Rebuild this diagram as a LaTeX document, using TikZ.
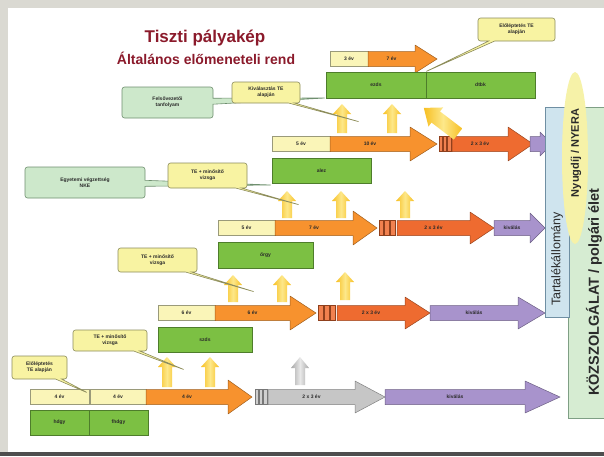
\documentclass[tikz,border=0pt]{standalone}
\usepackage{fontspec}
\setmainfont{Liberation Sans}
\usetikzlibrary{shapes.callouts,shapes.geometric}
\definecolor{bgray}{HTML}{DAD9D2}
\definecolor{dbar}{HTML}{4E4E4E}
\definecolor{titlered}{HTML}{8B1A2B}
\definecolor{txt}{HTML}{2A2A2A}
\definecolor{lyel}{HTML}{FAF5B8}
\definecolor{lyelb}{HTML}{9A9A7A}
\definecolor{orng}{HTML}{F7922E}
\definecolor{redo}{HTML}{EE6B30}
\definecolor{purp}{HTML}{A893CC}
\definecolor{gryA}{HTML}{C6C6C6}
\definecolor{grn}{HTML}{7CC043}
\definecolor{grnb}{HTML}{4E7D2B}
\definecolor{ycal}{HTML}{F8F3A2}
\definecolor{ycalb}{HTML}{8C8C5C}
\definecolor{gcal}{HTML}{CDE8CB}
\definecolor{gcalb}{HTML}{6F8F6F}
\definecolor{upd}{HTML}{F7BF22}
\definecolor{upl}{HTML}{FDE88A}
\definecolor{blu}{HTML}{CFE4EE}
\definecolor{blub}{HTML}{6F8FA3}
\definecolor{ell}{HTML}{F6F2A8}
\definecolor{gpan}{HTML}{D6ECD2}
\definecolor{gpanb}{HTML}{7F9F85}
% horizontal arrow: name, xs, xh, xt, yc, colour, label, head half height
\newcommand{\HArr}[8]{%
  \draw[fill=#6, draw=#6!65!black, line width=0.5pt, line join=round]
    (#2,#5-7.5) -- (#3,#5-7.5) -- (#3,#5-#8) -- (#4,#5) -- (#3,#5+#8) -- (#3,#5+7.5) -- (#2,#5+7.5) -- cycle;
  \node[lbl] (#1) at ({(#2+#3)/2},#5) {#7};}
% vertical up arrow: x, ybottom, ytop
\newcommand{\UpArr}[3]{%
  \shade[left color=upd, right color=upd, middle color=upl]
    (#1-5,#2) -- (#1-5,#3+10) -- (#1-9,#3+10) -- (#1,#3) -- (#1+9,#3+10) -- (#1+5,#3+10) -- (#1+5,#2) -- cycle;}
% break symbol: x1, x2, yc, colour
\newcommand{\Brk}[4]{%
  \foreach \i in {0,1,2}{\draw[fill=#4!85!white, draw=#4!60!black, line width=0.4pt]
    ({#1+\i*(#2-#1)/3},#3-7.5) rectangle ({#1+(\i+1)*(#2-#1)/3-1},#3+7.5);}}
% box by corners: name, x1, y1, x2, y2, style, text
\newcommand{\BoxN}[7]{\node[#6, anchor=north west, minimum width={(#4-#2)*1pt}, minimum height={(#5-#3)*1pt}] (#1) at (#2,#3) {#7};}
% callout: name, style, x1, y1, x2, y2, tipx, tipy, text
\newcommand{\CallN}[9]{%
  \coordinate (#1tip) at (#7,#8);
  \node[#2, minimum width={(#5-#3)*1pt}, minimum height={(#6-#4)*1pt}, callout absolute pointer={(#1tip)}] (#1) at ({(#3+#5)/2},{(#4+#6)/2}) {#9};}
\begin{document}
\begin{tikzpicture}[x=1pt,y=-1pt,
  lbl/.style={font=\fontsize{5}{6}\selectfont\bfseries, text=txt, inner sep=0pt},
  ybox/.style={draw=lyelb, fill=lyel, line width=0.5pt, inner sep=0pt, outer sep=0pt, font=\fontsize{5}{6}\selectfont\bfseries, text=txt},
  gbox/.style={draw=grnb, fill=grn, line width=0.8pt, inner sep=0pt, outer sep=0pt, font=\fontsize{5}{6}\selectfont\bfseries, text=txt},
  ycall/.style={rectangle callout, draw=ycalb, fill=ycal, line width=0.6pt, rounded corners=2.5pt, align=center, inner sep=0pt, font=\fontsize{5}{6}\selectfont\bfseries, text=txt, callout pointer width=6pt},
  gcall/.style={ycall, draw=gcalb, fill=gcal},
]
\useasboundingbox (0,0) rectangle (604,456);
\clip (0,0) rectangle (604,456);
\fill[bgray] (0,0) rectangle (604,456);
\fill[white] (8,8) rectangle (604,452);
\fill[dbar] (0,452) rectangle (604,456);

% title
\node[font=\fontsize{17}{20}\selectfont\bfseries, text=titlered] (title1) at (205,38) {Tiszti pályakép};
\node[font=\fontsize{14}{17}\selectfont\bfseries, text=titlered] (title2) at (206,58) {Általános előmeneteli rend};

% ---------- row 1 ----------
\BoxN{r1a}{30}{389.5}{89}{404.5}{ybox}{4 év}
\BoxN{r1b}{90}{389.5}{146}{404.5}{ybox}{4 év}
\HArr{r1c}{146}{228}{252}{397}{orng}{4 év}{17}
\Brk{255}{268}{397}{gryA}
\HArr{r1d}{268}{355}{385}{397}{gryA}{2 x 3 év}{16}
\HArr{r1e}{385}{525}{560}{397}{purp}{kiválás}{16}
\BoxN{hdgy}{30}{410}{89}{435}{gbox}{hdgy}
\BoxN{fhdgy}{89}{410}{148}{435}{gbox}{fhdgy}
\UpArr{167}{387}{357}
\UpArr{210}{387}{357}
\shade[left color=gryA!85!black, right color=gryA!85!black, middle color=gryA!40] (295,385) -- (295,368) -- (291,368) -- (300,357) -- (309,368) -- (305,368) -- (305,385) -- cycle;

% ---------- row 2 ----------
\BoxN{r2a}{158}{305.5}{215}{320.5}{ybox}{6 év}
\HArr{r2b}{215}{290}{316}{313}{orng}{6 év}{17}
\Brk{318}{336}{313}{redo}
\HArr{r2c}{337}{405}{430}{313}{redo}{2 x 3 év}{16}
\HArr{r2d}{430}{518}{545}{313}{purp}{kiválás}{16}
\BoxN{orgy}{218}{242}{313}{268}{gbox}{őrgy}
\BoxN{szds}{158}{327}{252}{352}{gbox}{szds}
\UpArr{233}{302}{275}
\UpArr{282}{302}{275}
\UpArr{345}{300}{272}

% ---------- row 3 ----------
\BoxN{r3a}{218}{220.5}{275}{235.5}{ybox}{5 év}
\HArr{r3b}{275}{353}{377}{228}{orng}{7 év}{17}
\Brk{379}{396}{228}{redo}
\HArr{r3c}{397}{470}{494}{228}{redo}{2 x 3 év}{16}
\HArr{r3d}{494}{530}{545}{228}{purp}{kiválás}{15}
\BoxN{alez}{272}{158}{371}{183}{gbox}{alez}
\UpArr{287}{218}{191}
\UpArr{341}{218}{191}
\UpArr{405}{218}{191}

% ---------- row 4 ----------
\BoxN{r4a}{272}{136.5}{330}{151.5}{ybox}{5 év}
\HArr{r4b}{330}{410}{437}{144}{orng}{10 év}{17}
\Brk{439}{452}{144}{redo}
\HArr{r4c}{452}{508}{533}{144}{redo}{2 x 3 év}{17}
\HArr{r4d}{530}{540}{552}{144}{purp}{}{12}
\UpArr{342}{133}{104}
\UpArr{392}{133}{104}
\begin{scope}[shift={(458,134)}, rotate=52.6]
  \shade[left color=upd, right color=upd, middle color=upl]
    (-7,0) -- (-7,-28) -- (-12,-28) -- (0,-43) -- (12,-28) -- (7,-28) -- (7,0) -- cycle;
\end{scope}

% ---------- row 5 ----------
\BoxN{r5a}{330}{51.5}{368}{66.5}{ybox}{3 év}
\HArr{r5b}{368}{415}{437}{59}{orng}{7 év}{14}
\BoxN{ezds}{326}{72}{426}{98}{gbox}{ezds}
\BoxN{dtbk}{426}{72}{535}{98}{gbox}{dtbk}

% ---------- callouts ----------
\CallN{c1}{ycall}{12}{356}{67}{379}{88}{393}{Előléptetés\\TE alapján}
\CallN{c2}{ycall}{73}{330}{147}{351}{185}{370}{TE + minősítő\\vizsga}
\CallN{c3}{ycall}{118}{248}{197}{272}{255}{292}{TE + minősítő\\vizsga}
\CallN{c5}{gcall}{25}{167}{145}{198}{272}{185}{Egyetemi végzettség\\NKE}
\CallN{c4}{ycall}{168}{163}{247}{188}{300}{205}{TE + minősítő\\vizsga}
\CallN{c7}{gcall}{122}{87}{213}{118}{326}{98}{Felsővezetői\\tanfolyam}
\CallN{c6}{ycall}{232}{82}{300}{103}{360}{122}{Kiválasztás TE\\alapján}
\CallN{c8}{ycall}{478}{18}{555}{41}{425}{72}{Előléptetés TE\\alapján}

% ---------- right panel ----------
\draw[fill=gpan, draw=gpanb, line width=0.6pt] (568,107) rectangle (612,418);
\draw[fill=blu, draw=blub, line width=0.6pt] (545,107) rectangle (569,317);
\fill[ell] (575,158) ellipse [x radius=13, y radius=86];
\node[rotate=90, font=\fontsize{12.5}{15}\selectfont, text=txt] (tartalek) at (557,259) {Tartalékállomány};
\node[rotate=90, font=\fontsize{11}{13}\selectfont\bfseries, text=txt] (nyugdij) at (576,153) {Nyugdíj / NYERA};
\node[rotate=90, font=\fontsize{14.5}{17}\selectfont\bfseries, text=txt] (kozszolg) at (594,292) {KÖZSZOLGÁLAT / polgári élet};
\end{tikzpicture}
\end{document}
